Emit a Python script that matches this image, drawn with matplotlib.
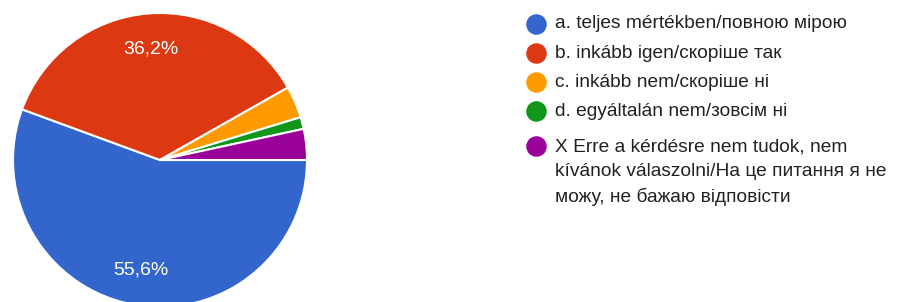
import matplotlib.pyplot as plt

labels = [
    "a. teljes mértékben/повною мірою",
    "b. inkább igen/скоріше так",
    "c. inkább nem/скоріше ні",
    "d. egyáltalán nem/зовсім ні",
    "X Erre a kérdésre nem tudok, nem\nkívánok válaszolni/На це питання я не\nможу, не бажаю відповісти",
]
values = [55.6, 36.2, 3.5, 1.3, 3.4]
colors = ["#3366cc", "#dc3912", "#ff9900", "#109618", "#990099"]

plt.rcParams['font.family'] = ['Liberation Sans', 'DejaVu Sans']

fig = plt.figure(figsize=(9.02, 3.02), dpi=100)
ax = fig.add_axes([0, 0, 1, 1])


def pct(p):
    if p < 5:
        return ''
    return ('%.1f%%' % p).replace('.', ',')


wedges, texts, autotexts = ax.pie(
    values, colors=colors, startangle=0, counterclock=False,
    center=(160, 142), radius=147, frame=True,
    autopct=pct, pctdistance=0.76,
    wedgeprops=dict(edgecolor='white', linewidth=1.5),
    textprops=dict(color='white', fontsize=14),
)

ax.set_xlim(0, 902)
ax.set_ylim(0, 302)
ax.set_aspect('auto')
ax.axis('off')

# legend drawn by hand so the dot sits on the first line of a wrapped label
y = 302 - 23.5
for lab, col in zip(labels, colors):
    if '\n' in lab:
        y -= 5.5  # wrapped entries get a bit more room
    ax.scatter([536], [y], s=190, color=col, clip_on=False)
    ax.text(555, y + 8, lab, fontsize=13.8, color='#212121', va='top',
            ha='left', linespacing=1.57)
    y -= 29.3

fig.savefig('out.png', dpi=100)
